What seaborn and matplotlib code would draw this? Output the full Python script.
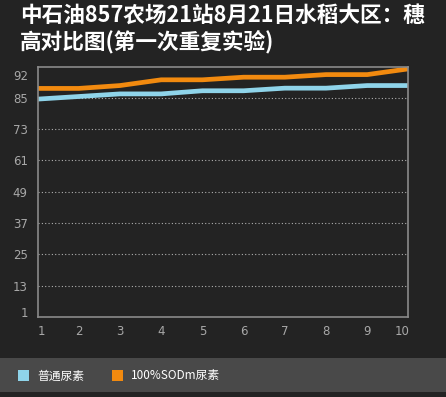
import matplotlib
matplotlib.use("Agg")
import matplotlib.pyplot as plt
import matplotlib.transforms as mtransforms
from matplotlib.patches import Patch, Rectangle
import seaborn as sns
import pandas as pd

# data
days = [1, 2, 3, 4, 5, 6, 7, 8, 9, 10]
series_names = ["普通尿素", "100%SODm尿素"]
normal_urea = [84.5, 85.5, 86.5, 86.5, 87.7, 87.7, 88.7, 88.7, 89.7, 89.7]
sodm_urea = [88.6, 88.6, 89.7, 91.9, 91.9, 92.9, 92.9, 93.9, 93.9, 96.1]
y_ticks = [1, 13, 25, 37, 49, 61, 73, 85, 93.7]
y_tick_labels = ["1", "13", "25", "37", "49", "61", "73", "85", "92"]
title = "中石油857农场21站8月21日水稻大区：穗\n高对比图(第一次重复实验)"

colors = ["#8fd4ea", "#f28a0f"]
bg = "#232323"

df = pd.DataFrame({
    "day": days * 2,
    "value": normal_urea + sodm_urea,
    "series": [series_names[0]] * len(days) + [series_names[1]] * len(days),
})

sns.set_style("dark")
plt.rcParams["font.family"] = ["Noto Sans CJK SC", "DejaVu Sans"]

fig = plt.figure(figsize=(4.46, 3.97), dpi=100, facecolor=bg)
ax = fig.add_axes([37.5 / 446, 1 - 317 / 397, 371 / 446, 250.5 / 397])
ax.set_facecolor(bg)

sns.lineplot(data=df, x="day", y="value", hue="series",
             palette=dict(zip(series_names, colors)),
             linewidth=3.4, legend=False, ax=ax)

ax.set_xlim(1, 10)
ax.set_ylim(1, 97)
ax.set_xticks(days)
ax.set_xticklabels([str(d) for d in days])
ax.set_yticks(y_ticks)
ax.set_yticklabels(y_tick_labels)
ax.set_xlabel("")
ax.set_ylabel("")

ax.tick_params(axis="both", length=0, colors="#a8a8a8", labelsize=8.5)
ax.tick_params(axis="y", pad=7)
ax.tick_params(axis="x", pad=6)
for lbl in ax.get_xticklabels() + ax.get_yticklabels():
    lbl.set_family("DejaVu Sans")

ax.yaxis.grid(True, color="#b0b0b0", linestyle=(0, (1, 2)), linewidth=0.8)
ax.xaxis.grid(False)
ax.get_ygridlines()[-1].set_visible(False)
ax.get_ygridlines()[0].set_visible(False)
for side in ["left", "right", "top", "bottom"]:
    ax.spines[side].set_visible(True)
    ax.spines[side].set_color("#8a8a8a")
    ax.spines[side].set_linewidth(1.2)

# nudge edge labels inward like the original
xl = ax.get_xticklabels()
xl[0].set_transform(xl[0].get_transform() + mtransforms.ScaledTranslation(3.5 / 100, 0, fig.dpi_scale_trans))
xl[-1].set_transform(xl[-1].get_transform() + mtransforms.ScaledTranslation(-6 / 100, 0, fig.dpi_scale_trans))
yl = ax.get_yticklabels()
yl[0].set_transform(yl[0].get_transform() + mtransforms.ScaledTranslation(0, 5 / 100, fig.dpi_scale_trans))

fig.text(20 / 446, 1 - 4 / 397, title, color="white", fontsize=15.6,
         fontweight="bold", ha="left", va="top", linespacing=1.16)

# legend band
fig.patches.append(Rectangle((0, 1 - 392 / 397), 1, 34 / 397, transform=fig.transFigure,
                             facecolor="#494949", edgecolor="none", zorder=0))
handles = [Patch(facecolor=c, edgecolor="none", label=n) for c, n in zip(colors, series_names)]
leg = fig.legend(handles=handles, loc="center left", bbox_to_anchor=(18 / 446, 1 - 376 / 397),
                 ncol=2, frameon=False, handlelength=0.95, handleheight=0.95,
                 handletextpad=0.7, columnspacing=2.3, fontsize=8.5,
                 borderpad=0, borderaxespad=0)
for t in leg.get_texts():
    t.set_color("white")

fig.savefig("out.png", dpi=100, facecolor=bg)
